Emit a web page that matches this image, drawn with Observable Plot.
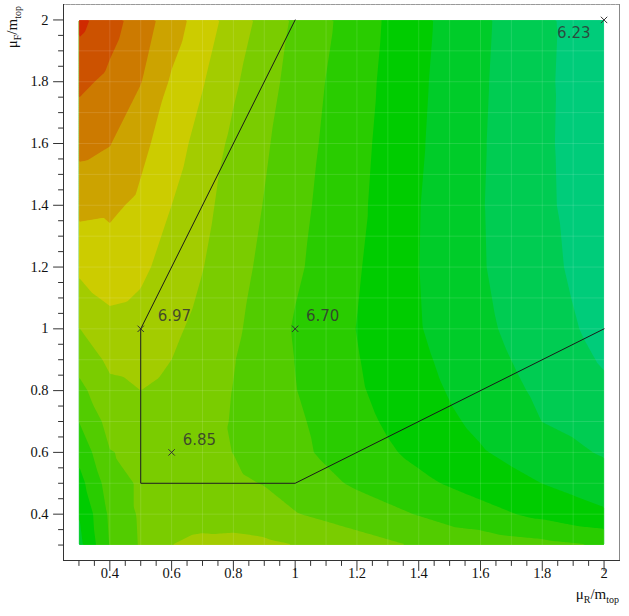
<!DOCTYPE html>
<html><head><meta charset="utf-8">
<script src="https://cdn.jsdelivr.net/npm/d3@7"></script>
<script src="https://cdn.jsdelivr.net/npm/@observablehq/plot@0.6"></script>
<style>body{margin:0;background:#fff;}</style></head><body><div id="chart"></div>
<script>
// tick values and labels
const majorTicks = [0.4, 0.6, 0.8, 1, 1.2, 1.4, 1.6, 1.8, 2];
const tickLabels = ["0.4", "0.6", "0.8", "1", "1.2", "1.4", "1.6", "1.8", "2"];
const minorTicks = [0.3, 0.35, 0.45, 0.5, 0.55, 0.65, 0.7, 0.75, 0.85, 0.9, 0.95, 1.05, 1.1, 1.15,
                    1.25, 1.3, 1.35, 1.45, 1.5, 1.55, 1.65, 1.7, 1.75, 1.85, 1.9, 1.95];
const gridTicks = [0.3, 0.4, 0.5, 0.6, 0.7, 0.8, 0.9, 1.0, 1.1, 1.2, 1.3, 1.4, 1.5, 1.6, 1.7, 1.8, 1.9, 2.0];

// sampled values (muR/mtop across, muF/mtop rows from 0.3 up to 2.0)
const muR = [0.3, 0.4, 0.5, 0.6, 0.7, 0.8, 0.9, 1.0, 1.1, 1.2, 1.4, 1.6, 1.8, 2.0];
const muF = [0.3, 0.4, 0.5, 0.6, 0.7, 0.8, 0.9, 1.0, 1.2, 1.4, 1.6, 1.8, 2.0];
const xsec = [
  [6.48, 6.715, 6.82, 6.91, 6.935, 6.94, 6.93, 6.91, 6.882, 6.855, 6.80, 6.77, 6.74, 6.705],
  [6.51, 6.728, 6.825, 6.86, 6.87, 6.865, 6.85, 6.815, 6.788, 6.76, 6.705, 6.645, 6.584, 6.525],
  [6.572, 6.759, 6.825, 6.848, 6.845, 6.827, 6.806, 6.766, 6.73, 6.696, 6.632, 6.57, 6.509, 6.46],
  [6.639, 6.806, 6.83, 6.85, 6.83, 6.809, 6.771, 6.733, 6.695, 6.658, 6.586, 6.519, 6.455, 6.40],
  [6.711, 6.845, 6.882, 6.87, 6.838, 6.805, 6.766, 6.726, 6.683, 6.637, 6.561, 6.488, 6.409, 6.363],
  [6.781, 6.886, 6.91, 6.889, 6.849, 6.808, 6.761, 6.713, 6.667, 6.622, 6.543, 6.465, 6.391, 6.329],
  [6.846, 6.93, 6.94, 6.91, 6.862, 6.814, 6.761, 6.708, 6.662, 6.615, 6.529, 6.447, 6.372, 6.30],
  [6.907, 6.98, 6.97, 6.929, 6.882, 6.827, 6.771, 6.70, 6.654, 6.608, 6.516, 6.432, 6.355, 6.28],
  [7.031, 7.061, 7.031, 6.968, 6.913, 6.85, 6.787, 6.727, 6.672, 6.619, 6.511, 6.418, 6.337, 6.26],
  [7.139, 7.13, 7.089, 7.01, 6.936, 6.869, 6.806, 6.742, 6.683, 6.631, 6.513, 6.416, 6.33, 6.245],
  [7.24, 7.214, 7.136, 7.056, 6.972, 6.888, 6.823, 6.758, 6.695, 6.639, 6.521, 6.419, 6.328, 6.24],
  [7.335, 7.286, 7.214, 7.098, 7.017, 6.926, 6.847, 6.775, 6.708, 6.649, 6.527, 6.423, 6.33, 6.235],
  [7.44, 7.352, 7.26, 7.159, 7.061, 6.968, 6.878, 6.794, 6.726, 6.66, 6.535, 6.428, 6.334, 6.23]
];
const levels = [6.0, 6.31, 6.41, 6.51, 6.61, 6.71, 6.81, 6.91, 7.01, 7.11, 7.21, 7.31, 7.41];
const levelColors = ["#00cc7a", "#00cc52", "#00cc29", "#00cc00", "#29cc00", "#52cc00", "#7acc00",
                     "#a3cc00", "#cccc00", "#cca300", "#cc7a00", "#cc5200", "#d02a00"];

// uncertainty envelope
const boundR = [1.0, 0.5, 0.5, 1.0, 2.0];
const boundF = [2.0, 1.0, 0.5, 0.5, 1.0];

// marked points and their values
const markR = [0.5, 1.0, 0.6, 2.0];
const markF = [1.0, 1.0, 0.6, 2.0];
const markText = ["6.97", "6.70", "6.85", "6.23"];
const textR = [0.555, 1.035, 0.636, 1.848];
const textF = [1.026, 1.026, 0.624, 1.942];

const points = muF.flatMap((f, j) => muR.map((r, i) => ({r, f, v: xsec[j][i]})));
const bound = boundR.map((r, i) => ({r, f: boundF[i]}));
const marksData = markR.map((r, i) => ({r, f: markF[i]}));
const textData = textR.map((r, i) => ({r, f: textF[i], t: markText[i]}));
const tickData = majorTicks.map((v, i) => ({v, t: tickLabels[i]}));

const serif = "Liberation Serif";
const [r0, r1] = d3.extent(muR);
const [f0, f1] = d3.extent(muF);
// plain stroke used for inward axis ticks
const tickShape = {draw(context, l) { context.moveTo(0, 0); context.lineTo(0, l); }};

const plot = Plot.plot({
  width: 629, height: 616,
  marginLeft: 63, marginRight: 10, marginTop: 4, marginBottom: 56,
  x: {domain: [0.25, 2.05], axis: null},
  y: {domain: [0.25, 2.05], axis: null},
  color: {type: "ordinal", domain: levels, range: levelColors},
  marks: [
    Plot.contour(points, {x: "r", y: "f", value: "v", fill: "value", thresholds: levels,
      interpolate: "barycentric", x1: r0, x2: r1, y1: f0, y2: f1}),
    Plot.gridX(gridTicks, {stroke: "white", strokeOpacity: 0.12}),
    Plot.gridY(gridTicks, {stroke: "white", strokeOpacity: 0.12}),
    Plot.line(bound, {x: "r", y: "f", stroke: "#1a1a1a", strokeWidth: 1}),
    Plot.dot(marksData, {x: "r", y: "f", symbol: "times", r: 3, stroke: "#333", strokeWidth: 1}),
    Plot.text(textData, {x: "r", y: "f", text: "t", textAnchor: "start", lineAnchor: "bottom",
      fontFamily: "DejaVu Sans", fontSize: 15, fill: "#333", fillOpacity: 0.85}),
    Plot.frame({anchor: "top", stroke: "#999", strokeDasharray: "1.5,1"}),
    Plot.frame({anchor: "right", stroke: "#888"}),
    Plot.frame({anchor: "left", stroke: "#333"}),
    Plot.frame({anchor: "bottom", stroke: "#333"}),
    Plot.vector(majorTicks, {x: d => d, frameAnchor: "bottom", length: 10, rotate: 0, anchor: "start",
      shape: tickShape, stroke: "#333", strokeWidth: 1}),
    Plot.vector(minorTicks, {x: d => d, frameAnchor: "bottom", length: 5, rotate: 0, anchor: "start",
      shape: tickShape, stroke: "#333", strokeWidth: 1}),
    Plot.vector(majorTicks, {y: d => d, frameAnchor: "left", length: 10, rotate: 90, anchor: "start",
      shape: tickShape, stroke: "#333", strokeWidth: 1}),
    Plot.vector(minorTicks, {y: d => d, frameAnchor: "left", length: 5, rotate: 90, anchor: "start",
      shape: tickShape, stroke: "#333", strokeWidth: 1}),
    Plot.text(tickData, {x: "v", frameAnchor: "bottom", text: "t", lineAnchor: "top", dy: 7,
      fontFamily: serif, fontSize: 14.5, fill: "#111"}),
    Plot.text(tickData, {y: "v", frameAnchor: "left", text: "t", textAnchor: "end", dx: -15,
      fontFamily: serif, fontSize: 14.5, fill: "#111"})
  ]
});

const svg = d3.select(plot.tagName.toLowerCase() === "svg" ? plot : plot.querySelector("svg"));
// x title: mu_R / m_top
const tx = svg.append("text").attr("x", 619).attr("y", 599).attr("text-anchor", "end")
  .attr("font-family", serif).attr("font-size", 15).attr("fill", "#111");
tx.append("tspan").text("μ");
tx.append("tspan").attr("font-size", 10).attr("dy", 4).text("R");
tx.append("tspan").attr("dy", -4).text("/m");
tx.append("tspan").attr("font-size", 10).attr("dy", 4).text("top");
// y title: mu_F / m_top
const ty = svg.append("text").attr("transform", "translate(17,6) rotate(-90)").attr("text-anchor", "end")
  .attr("font-family", serif).attr("font-size", 15).attr("fill", "#111");
ty.append("tspan").text("μ");
ty.append("tspan").attr("font-size", 10).attr("dy", 4).text("F");
ty.append("tspan").attr("dy", -4).text("/m");
ty.append("tspan").attr("font-size", 10).attr("dy", 4).text("top");

document.getElementById("chart").appendChild(plot);
</script></body></html>
